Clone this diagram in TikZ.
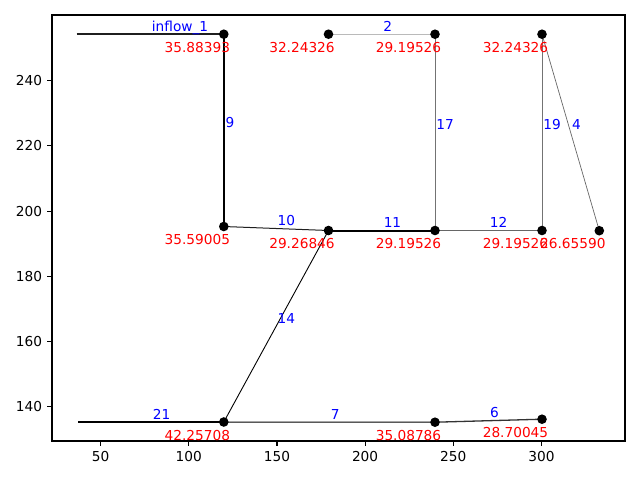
\documentclass[tikz,border=0pt]{standalone}
\usepackage{fontspec}
\setmainfont{DejaVu Sans}
\begin{document}
\begin{tikzpicture}[x=1pt,y=-1pt,
  txt/.style={inner sep=0pt,font=\fontsize{13.7}{16}\selectfont},
  junction/.style={circle,fill=black,inner sep=0pt,minimum size=9.6pt},
  elabel/.style={txt,text=blue,anchor=base west,xshift=1pt,yshift=3pt},
  vlabel/.style={txt,text=red,anchor=base,xshift=-26.5pt,yshift=-18pt},
  pipe/.style={line cap=butt},
  frame/.style={line width=1.1pt},
  tick/.style={line width=1.1pt}]
\useasboundingbox (0,0) rectangle (640,480);
% junction positions
\coordinate (A) at (223.8,34.2);
\coordinate (B) at (328.5,34.2);
\coordinate (C) at (435.0,34.2);
\coordinate (D) at (542.0,34.2);
\coordinate (E) at (599.3,230.7);
\coordinate (F) at (223.8,226.5);
\coordinate (G) at (328.5,230.5);
\coordinate (H) at (435.0,230.5);
\coordinate (I) at (542.0,230.5);
\coordinate (J) at (223.8,422.0);
\coordinate (K) at (435.0,422.2);
\coordinate (L) at (542.0,419.2);
\coordinate (in1) at (76.5,34.2);
\coordinate (in21) at (78.3,422.0);
% frame and ticks
\draw[frame] (52,15) rectangle (625,441);
\foreach \v/\px in {50/100.6,100/188.8,150/277.0,200/365.1,250/453.3,300/541.5}{
  \draw[tick] (\px,441) -- (\px,445.9);
  \node[txt,anchor=north] (xt\v) at (\px,450.8) {\v};
}
\foreach \v/\py in {240/80.7,220/145.9,200/211.1,180/276.3,160/341.5,140/406.7}{
  \draw[tick] (52,\py) -- (47.1,\py);
  \node[txt,anchor=east] (yt\v) at (42.2,\py) {\v};
}
% pipes
\draw[pipe,line width=1.5pt,color=black!88] (in1) -- (A) node[midway,elabel] (e1) {inflow\_1};
\draw[pipe,line width=1.3pt,color=black!27] (B) -- (C) node[midway,elabel] (e2) {2};
\draw[pipe,line width=1.5pt,color=black] (A) -- (F) node[midway,elabel] (e9) {9};
\draw[pipe,line width=0.8pt,color=black!55] (C) -- (H) node[midway,elabel] (e17) {17};
\draw[pipe,line width=0.8pt,color=black!55] (D) -- (I) node[midway,elabel] (e19) {19};
\draw[pipe,line width=0.7pt,color=black!60] (D) -- (E) node[midway,elabel] (e4) {4};
\draw[pipe,line width=1.0pt,color=black!88] (F) -- (G) node[midway,elabel] (e10) {10};
\draw[pipe,line width=2.0pt,color=black] (G) -- (H) node[midway,elabel] (e11) {11};
\draw[pipe,line width=0.8pt,color=black!60] (H) -- (I) node[midway,elabel] (e12) {12};
\draw[pipe,line width=0.9pt,color=black] (J) -- (G) node[midway,elabel] (e14) {14};
\draw[pipe,line width=1.8pt,color=black] (in21) -- (J) node[midway,elabel] (e21) {21};
\draw[pipe,line width=1.0pt,color=black] (J) -- (K) node[midway,elabel] (e7) {7};
\draw[pipe,line width=1.3pt,color=black!80] (K) -- (L) node[midway,elabel] (e6) {6};
% junction dots
\foreach \n in {A,B,C,D,E,F,G,H,I,J,K,L}{
  \node[junction] (d\n) at (\n) {};
}
% junction values
\node[vlabel] (vA) at (A) {35.88393};
\node[vlabel] (vB) at (B) {32.24326};
\node[vlabel] (vC) at (C) {29.19526};
\node[vlabel] (vD) at (D) {32.24326};
\node[vlabel] (vE) at (E) {26.65590};
\node[vlabel] (vF) at (F) {35.59005};
\node[vlabel] (vG) at (G) {29.26846};
\node[vlabel] (vH) at (H) {29.19526};
\node[vlabel] (vI) at (I) {29.19526};
\node[vlabel] (vJ) at (J) {42.25708};
\node[vlabel] (vK) at (K) {35.08786};
\node[vlabel] (vL) at (L) {28.70045};
\end{tikzpicture}
\end{document}
